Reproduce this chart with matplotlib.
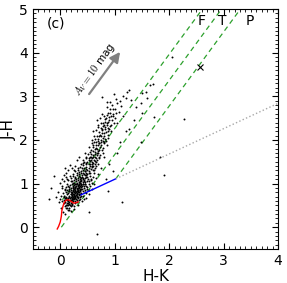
import matplotlib
matplotlib.use("Agg")
import matplotlib.pyplot as plt
import numpy as np

plt.rcParams["mathtext.fontset"] = "cm"

# field stars (H-K, J-H)
hk = [
    0.25, 0.28, 0.31, 0.22, 0.35, 0.30, 0.27, 0.33, 0.24, 0.29,
    0.36, 0.20, 0.26, 0.32, 0.38, 0.23, 0.34, 0.19, 0.40, 0.28,
    0.31, 0.25, 0.37, 0.21, 0.17, 0.30, 0.42, 0.33, 0.27, 0.39,
    0.18, 0.15, 0.22, 0.26, 0.35, 0.41, 0.44, 0.29, 0.36, 0.23,
    0.20, 0.16, 0.13, 0.12, 0.14, 0.18, 0.24, 0.30, 0.33, 0.38,
    0.43, 0.46, 0.40, 0.34, 0.28, 0.48, 0.45, 0.50, 0.39, 0.32,
    0.26, 0.21, 0.17, 0.11, 0.10, 0.08, 0.12, 0.16, 0.20, 0.27,
    0.31, 0.36, 0.41, 0.47, 0.52, 0.55, 0.50, 0.44, 0.37, 0.30,
    0.24, 0.19, 0.14, 0.09, 0.07, 0.06, 0.10, 0.14, 0.22, 0.29,
    0.34, 0.39, 0.45, 0.49, 0.53, 0.57, 0.60, 0.54, 0.47, 0.41,
    0.25, 0.27, 0.29, 0.32, 0.34, 0.23, 0.21, 0.35, 0.37, 0.30,
    0.26, 0.28, 0.24, 0.31, 0.33, 0.36, 0.38, 0.22, 0.19, 0.27,
    0.58, 0.62, 0.55, 0.65, 0.60, 0.68, 0.52, 0.63, 0.70, 0.57,
    0.66, 0.73, 0.61, 0.75, 0.69, 0.78, 0.64, 0.72, 0.80, 0.76,
    0.83, 0.70, 0.86, 0.79, 0.90, 0.84, 0.93, 0.88, 0.97, 0.92,
    1.00, 0.95, 1.05, 1.10, 1.02, 1.15, 1.22, 1.27, 1.08, 1.12,
    0.50, 0.48, 0.56, 0.62, 0.67, 0.74, 0.82, 0.58, 0.66, 0.72,
    0.78, 0.85, 0.88, 0.94, 0.98, 0.53, 0.46, 0.62, 0.70, 0.81,
    0.42, 0.45, 0.52, 0.58, 0.60, 0.68, 0.76, 0.85, 0.91, 0.98,
    -0.17, -0.20, -0.11, -0.02, 0.02, -0.05, 0.00, 0.04, -0.08, 0.03,
    0.06, 0.10, 0.08, 0.15, 0.18, 0.22, 0.12, 0.05, 0.09, 0.20,
    0.26, 0.33, 0.40, 0.47, 0.53, 0.58, 0.62, 0.66, 0.70, 0.75,
    0.53, 0.68, 1.14, 0.87, 0.41, 0.96, 1.90, 0.30, 0.35, 0.28,
    0.84, 0.90, 1.05, 1.10, 1.20, 1.27, 1.35, 1.40, 1.51, 1.49,
    1.51, 1.58, 1.64, 1.70, 1.60, 1.73, 2.28, 2.06, 1.49, 0.00,
    0.77, 0.85, 1.20, 1.30, 1.05, 1.15, 0.80, 0.72, 0.88, 1.84,
    0.15, 0.18, 0.21, 0.24, 0.27, 0.30, 0.33, 0.36, 0.39, 0.42,
    0.45, 0.48, 0.12, 0.10, 0.17, 0.20, 0.23, 0.26, 0.29, 0.32,
    0.35, 0.38, 0.41, 0.44, 0.47, 0.13, 0.16, 0.19, 0.22, 0.25,
    0.28, 0.31, 0.34, 0.37, 0.40, 0.43, 0.46, 0.24, 0.27, 0.30,
    0.33, 0.36, 0.39, 0.42, 0.45, 0.14, 0.17, 0.20, 0.23, 0.26,
    0.29, 0.32, 0.35, 0.38, 0.19, 0.22, 0.25, 0.28, 0.31, 0.34,
    0.37, 0.40, 0.43, 0.46, 0.49, 0.51, 0.50, 0.52, 0.47, 0.42,
    0.11, 0.09, 0.08, 0.14, 0.16, 0.21, 0.32, 0.37, 0.18, 0.22,
    0.27, 0.31, 0.35, 0.40, 0.54, 0.56, 0.58, 0.60, 0.55, 0.63,
    0.60, 0.63, 0.66, 0.69, 0.72, 0.75, 0.78, 0.81, 0.84, 0.87,
    0.59, 0.64, 0.67, 0.71, 0.74, 0.77, 0.82, 0.85, 0.90, 0.86,
    0.53, 0.57, 0.61, 0.65, 0.70, 0.73, 0.79, 0.83, 0.92, 0.96,
    0.02, 0.05, 0.08, 0.04, 0.10, 0.13, 0.07, 0.15, 0.11, 0.18,
    0.45, 0.50, 0.48, 0.55, 0.52, 0.58, 0.60, 0.62, 0.56, 0.64,
    0.03, 0.06, 0.09, 0.13, 0.17, 0.25, 0.28, 0.36, 0.42, 0.44,
    0.20, 0.24, 0.28, 0.33, 0.25, 0.38, 0.43, 0.48, 0.52, 0.57,
    0.16, 0.12, 0.06, 0.15, 0.23, 0.29, 0.39, 0.41, 0.47, 0.53,
    0.47, 0.51, 0.55, 0.60, 0.63, 0.66, 0.70, 0.74, 0.77, 0.80,
    0.68, 0.73, 0.76, 0.80, 0.83, 0.87, 0.91, 0.95, 0.75, 0.71,
    0.58, 0.62, 0.66, 0.69, 0.73, 0.81, 0.88, 0.93, 1.00, 1.03,
    0.55, 0.61, 0.64, 0.67, 0.58, 0.71, 0.79, 0.84, 0.89, 0.97,
]
jh = [
    0.80, 0.85, 0.88, 0.74, 0.92, 0.78, 0.90, 0.83, 0.86, 0.95,
    0.85, 0.70, 0.72, 0.97, 0.99, 0.92, 0.76, 0.80, 0.94, 0.68,
    1.02, 0.96, 1.05, 0.65, 0.72, 0.70, 1.00, 1.08, 1.00, 0.88,
    0.62, 0.68, 0.58, 0.64, 0.80, 1.10, 1.05, 1.10, 1.15, 1.02,
    0.90, 0.82, 0.75, 0.62, 0.55, 0.52, 0.60, 0.62, 0.70, 0.78,
    0.90, 1.12, 1.20, 1.22, 1.15, 1.20, 0.98, 1.15, 1.28, 1.30,
    1.08, 0.98, 0.92, 0.80, 0.68, 0.58, 0.50, 0.45, 0.48, 0.55,
    0.58, 0.70, 0.82, 0.95, 1.05, 1.25, 1.32, 1.35, 1.38, 1.25,
    1.18, 1.05, 0.95, 0.88, 0.72, 0.62, 0.44, 0.40, 0.52, 0.65,
    0.62, 0.72, 0.80, 0.88, 0.98, 1.10, 1.30, 1.40, 1.45, 1.42,
    0.76, 0.82, 0.74, 0.90, 0.96, 0.84, 0.78, 1.00, 0.94, 0.84,
    0.88, 0.93, 0.70, 0.75, 0.86, 1.02, 1.08, 0.68, 0.76, 0.78,
    1.45, 1.55, 1.52, 1.50, 1.62, 1.65, 1.58, 1.72, 1.75, 1.68,
    1.82, 1.85, 1.88, 1.95, 1.98, 2.05, 2.02, 2.10, 2.15, 2.22,
    2.25, 2.30, 2.35, 2.40, 2.45, 2.50, 2.55, 2.62, 2.60, 2.70,
    2.72, 2.80, 2.85, 2.90, 2.95, 3.00, 3.10, 3.15, 2.65, 2.78,
    1.50, 1.62, 1.78, 1.95, 2.08, 2.28, 2.42, 1.38, 1.40, 1.58,
    1.70, 1.88, 2.05, 2.20, 2.38, 1.35, 1.28, 1.30, 1.45, 1.60,
    1.55, 1.70, 1.85, 2.00, 2.20, 2.45, 2.60, 2.75, 2.88, 3.05,
    0.91, 0.64, 1.17, 0.57, 0.45, 0.80, 1.02, 1.10, 0.70, 0.90,
    1.20, 1.25, 1.35, 1.30, 1.42, 1.35, 1.10, 0.35, 0.30, 0.38,
    0.42, 0.50, 0.60, 0.68, 0.75, 0.88, 0.98, 1.12, 1.22, 1.35,
    0.34, -0.16, 0.57, 0.82, 1.48, 1.28, 1.19, 1.55, 1.62, 1.40,
    1.10, 1.45, 1.70, 1.95, 2.20, 2.24, 2.45, 2.76, 2.62, 2.85,
    3.07, 3.10, 3.26, 3.28, 2.96, 2.53, 2.47, 3.90, 1.96, 0.65,
    2.99, 2.88, 2.96, 2.92, 2.40, 2.55, 1.95, 1.92, 2.20, 1.62,
    0.60, 0.66, 0.71, 0.77, 0.83, 0.89, 0.95, 1.01, 1.07, 1.13,
    1.19, 1.25, 0.56, 0.52, 0.58, 0.63, 0.69, 0.74, 0.80, 0.86,
    0.91, 0.97, 1.03, 1.09, 1.15, 0.64, 0.70, 0.75, 0.81, 0.87,
    0.92, 0.98, 1.04, 1.10, 1.16, 1.22, 1.28, 0.64, 0.70, 0.76,
    0.81, 0.87, 0.93, 0.98, 1.04, 0.78, 0.84, 0.86, 0.95, 1.01,
    1.06, 1.12, 1.18, 1.24, 0.56, 0.62, 0.67, 0.72, 0.71, 0.74,
    0.83, 0.88, 0.94, 0.99, 1.06, 1.10, 1.22, 1.28, 1.34, 1.30,
    0.70, 0.62, 0.66, 0.50, 0.53, 0.54, 0.66, 0.77, 0.96, 1.06,
    1.12, 1.20, 1.27, 1.35, 1.18, 1.33, 1.40, 1.48, 1.45, 1.60,
    1.40, 1.52, 1.58, 1.70, 1.78, 1.88, 1.98, 2.10, 2.18, 2.28,
    1.58, 1.68, 1.80, 1.92, 2.00, 2.15, 2.30, 2.40, 2.52, 2.58,
    1.55, 1.62, 1.75, 1.88, 2.02, 2.12, 2.32, 2.48, 2.62, 2.70,
    0.72, 0.78, 0.85, 0.95, 0.92, 0.98, 1.05, 1.08, 1.15, 1.18,
    0.85, 0.92, 0.78, 0.95, 0.85, 1.02, 1.15, 1.25, 1.08, 1.35,
    0.60, 0.55, 0.48, 0.45, 0.40, 0.48, 0.60, 0.64, 0.72, 0.65,
    1.12, 1.22, 1.28, 1.35, 1.30, 1.45, 1.50, 1.48, 1.45, 1.55,
    0.88, 0.86, 0.70, 0.62, 0.89, 0.99, 1.13, 1.25, 1.38, 1.25,
    1.58, 1.68, 1.72, 1.85, 1.80, 1.95, 1.88, 2.08, 2.25, 2.35,
    1.55, 1.65, 1.78, 1.92, 2.02, 2.12, 2.32, 2.45, 2.40, 2.18,
    1.92, 2.10, 2.22, 2.35, 2.50, 2.55, 2.42, 2.35, 2.50, 2.62,
    1.62, 1.66, 1.45, 1.70, 1.50, 1.62, 1.82, 1.98, 2.25, 2.55,
]

# dwarf locus (red)
dwarf_hk = [-0.055, -0.03, 0.00, 0.02, 0.03, 0.05, 0.07, 0.10, 0.13, 0.17, 0.21, 0.25, 0.28, 0.33]
dwarf_jh = [-0.04, 0.02, 0.12, 0.25, 0.38, 0.48, 0.56, 0.61, 0.63, 0.62, 0.58, 0.55, 0.56, 0.58]

# CTTS locus (blue) and its extension (grey)
ctts_hk = [0.38, 1.02]
ctts_jh = [0.74, 1.11]
ext_hk = [1.02, 4.0]
ext_jh = [1.11, 2.84]

# reddening lines (start points, slope from Av arrow)
red_start_hk = [0.04, 0.02, 1.02]
red_start_jh = [0.63, 0.00, 1.11]
red_slope = 1.7
region_labels = ["F", "T", "P"]
region_hk = [2.60, 2.98, 3.48]

# single marked source
star_hk = [2.56]
star_jh = [3.68]

fig = plt.figure(figsize=(2.87, 2.83), dpi=100)
ax = fig.add_axes([0.115, 0.12, 0.854, 0.848])

for x0, y0 in zip(red_start_hk, red_start_jh):
    ax.plot([x0, x0 + (5.5 - y0) / red_slope], [y0, 5.5], color="#2ca02c",
            ls=(0, (4, 3)), lw=0.9, zorder=1)

ax.plot(hk, jh, ".", color="black", ms=2.8, mew=0, zorder=2)
ax.plot(star_hk, star_jh, "x", color="black", ms=4, mew=0.8, zorder=3)

ax.plot(dwarf_hk, dwarf_jh, color="red", lw=1.0, zorder=4)
ax.plot(ctts_hk, ctts_jh, color="blue", lw=1.0, zorder=4)
ax.plot(ext_hk, ext_jh, color="#a8a8a8", ls=":", lw=1.0, zorder=4)

for lab, x in zip(region_labels, region_hk):
    ax.text(x, 4.72, lab, fontsize=10, ha="center", va="center")

ax.text(-0.25, 4.66, "(c)", fontsize=10, ha="left", va="center")

# Av = 10 mag arrow
ax.annotate("", xy=(1.13, 4.07), xytext=(0.50, 3.00),
            arrowprops=dict(arrowstyle="-|>,head_length=0.6,head_width=0.3",
                            color="grey", lw=1.6))
ax.text(0.64, 3.60, r"$A_V=10$ mag", fontsize=7.5, rotation=54,
        ha="center", va="center")

ax.set_xlim(-0.5, 4)
ax.set_ylim(-0.5, 5)
ax.set_xticks([0, 1, 2, 3, 4])
ax.set_yticks([0, 1, 2, 3, 4, 5])
ax.set_xticks(np.arange(-0.5, 4.01, 0.1), minor=True)
ax.set_yticks(np.arange(-0.5, 5.01, 0.1), minor=True)
ax.tick_params(which="both", direction="in", top=True, right=True, labelsize=10)
ax.tick_params(which="major", length=4)
ax.tick_params(which="minor", length=2)
ax.set_xlabel("H-K", fontsize=11, labelpad=1)
ax.set_ylabel("J-H", fontsize=11, labelpad=2)

fig.savefig("out.png", dpi=100)
